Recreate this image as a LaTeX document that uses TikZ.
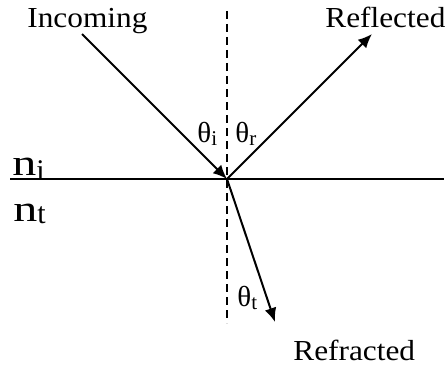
\documentclass[tikz,border=0pt]{standalone}
\usepackage{graphicx}
\usepackage{fontspec}
\setmainfont{Liberation Serif}
\usetikzlibrary{arrows.meta}

\newcommand{\widetext}[1]{\scalebox{1.08}[1]{#1}}
\newcommand{\angsub}[1]{\raisebox{-1.5pt}{\fontsize{10.5}{12}\selectfont #1}}
\newcommand{\medium}[2]{\scalebox{1.3}[1]{n}\raisebox{#1}{\fontsize{15}{17}\selectfont #2}}

\begin{document}
\begin{tikzpicture}[x=0.5pt,y=-0.5pt,
    ray/.style={line width=1pt,-{Latex[length=7pt,width=6pt]}},
    lbl/.style={font=\fontsize{14.5}{17}\selectfont,inner sep=0pt,anchor=base west},
    ang/.style={font=\fontsize{14.5}{17}\selectfont,inner sep=0pt,anchor=base west},
    idx/.style={font=\fontsize{18.5}{21}\selectfont,inner sep=0pt,anchor=base west}]
    \useasboundingbox (0,0) rectangle (448,369);

    \coordinate (O) at (227,179);
    \coordinate (left) at (10,179);
    \coordinate (right) at (444,179);
    \coordinate (top) at (227,11);
    \coordinate (bottom) at (227,323);
    \coordinate (src) at (82,34);
    \coordinate (refl) at (372,34);
    \coordinate (refr) at (275,322);

    \draw[line width=1pt] (left) -- (right);
    \draw[line width=1pt,dash pattern=on 4pt off 2.5pt] (top) -- (bottom);

    \draw[ray] (src) -- (O);
    \draw[ray] (O) -- (refl);
    \draw[ray] (O) -- (refr);

    \node[lbl] (incoming) at (27,28) {\widetext{Incoming}};
    \node[lbl] (reflected) at (325,28) {\widetext{Reflected}};
    \node[lbl] (refracted) at (293,360) {\widetext{Refracted}};

    \node[ang] (thi) at (197,142) {θ\angsub{i}};
    \node[ang] (thr) at (235,142) {θ\angsub{r}};
    \node[ang] (tht) at (237,306) {θ\angsub{t}};

    \node[idx] (ni) at (12,175) {\medium{-2.5pt}{i}};
    \node[idx] (nt) at (13,221) {\medium{-1pt}{t}};
\end{tikzpicture}
\end{document}
